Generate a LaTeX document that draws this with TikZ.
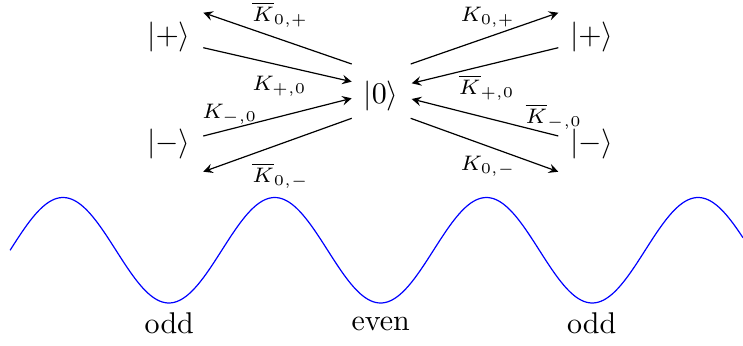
\documentclass[tikz,border=0pt]{standalone}
\usepackage{amsmath}
\begin{document}
\begin{tikzpicture}[x=0.33333pt,y=-0.33333pt,
  state/.style={inner sep=0pt,anchor=center},
  lab/.style={inner sep=0pt,anchor=base west,font=\scriptsize},
  word/.style={inner sep=0pt,anchor=center},
  arr/.style={-stealth,line width=0.4pt}]
\useasboundingbox (0,0) rectangle (743,345);
% states
\node[state] (p1) at (169,37.2) {$|+\rangle$};
\node[state] (m1) at (169,144) {$|-\rangle$};
\node[state] (z)  at (381,95.5) {$|0\rangle$};
\node[state] (p2) at (591.7,37.2) {$|+\rangle$};
\node[state] (m2) at (591.7,144) {$|-\rangle$};
% arrow ends
\coordinate (p1a) at (203.3,12.7);
\coordinate (p1b) at (203.3,47.7);
\coordinate (m1a) at (203.3,136);
\coordinate (m1b) at (203.3,171.7);
\coordinate (zl1) at (351.7,64);
\coordinate (zl2) at (351.7,81.7);
\coordinate (zl3) at (351.7,98.3);
\coordinate (zl4) at (351.7,118.3);
\coordinate (zr1) at (410.7,64);
\coordinate (zr2) at (411.7,83.3);
\coordinate (zr3) at (411.7,99);
\coordinate (zr4) at (410.7,118.3);
\coordinate (p2a) at (558.3,12.7);
\coordinate (p2b) at (558.3,47.7);
\coordinate (m2a) at (558.3,136);
\coordinate (m2b) at (558.3,171.7);
% arrows
\draw[arr] (zl1) -- (p1a);
\draw[arr] (p1b) -- (zl2);
\draw[arr] (m1a) -- (zl3);
\draw[arr] (zl4) -- (m1b);
\draw[arr] (zr1) -- (p2a);
\draw[arr] (p2b) -- (zr2);
\draw[arr] (m2a) -- (zr3);
\draw[arr] (zr4) -- (m2b);
% labels
\node[lab] (l1) at (251.7,21.7) {$\overline{K}_{0,+}$};
\node[lab] (l2) at (251.7,90) {$K_{+,0}$};
\node[lab] (l3) at (201.7,118.3) {$K_{-,0}$};
\node[lab] (l4) at (251.7,182.7) {$\overline{K}_{0,-}$};
\node[lab] (r1) at (460,21.7) {$K_{0,+}$};
\node[lab] (r2) at (458.3,94.3) {$\overline{K}_{+,0}$};
\node[lab] (r3) at (525,123.3) {$\overline{K}_{-,0}$};
\node[lab] (r4) at (460,170) {$K_{0,-}$};
% wave
\draw[blue,line width=0.4pt] plot[domain=10.1:743,samples=300,smooth] (\x,{250.25-52.75*sin((\x-10.1)*1.700520)});
% parity words
\node[word] (w1) at (169.3,323.5) {odd};
\node[word] (w2) at (380.7,323.5) {even};
\node[word] (w3) at (591.7,323.5) {odd};
\end{tikzpicture}
\end{document}
